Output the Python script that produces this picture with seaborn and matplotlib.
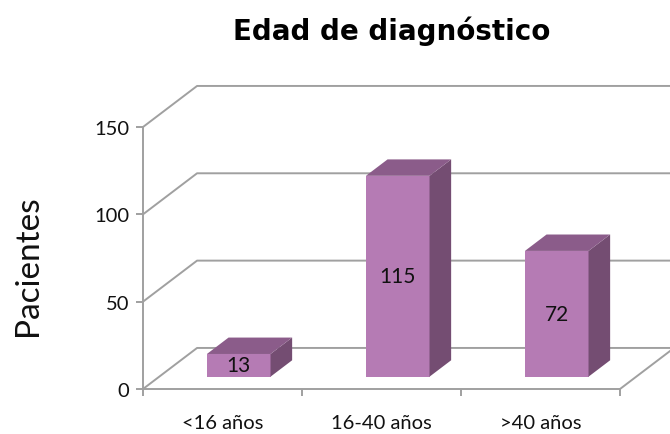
import matplotlib
matplotlib.use('Agg')
import matplotlib.pyplot as plt
from matplotlib.patches import Polygon
import seaborn as sns

# Data
categorias = ['<16 años', '16-40 años', '>40 años']
pacientes = [13, 115, 72]
y_ticks = [0, 50, 100, 150]

# Colors
front_color = '#b57bb4'
top_color = '#8b5c8a'
side_color = '#744d72'
grid_color = '#a0a0a0'
text_color = '#111111'

# Depth of the fake 3D box (data units) and where the bars sit inside it
DX, DY = 0.34, 23.5
F0, F1 = 0.3, 0.7

sns.set_style('white')
plt.rcParams['font.family'] = ['Lato', 'DejaVu Sans']

fig = plt.figure(figsize=(6.7, 4.35), dpi=100)
ax = fig.add_axes([143 / 670, 45 / 435, 477 / 670, 262 / 435])

sns.barplot(x=categorias, y=pacientes, color=front_color, saturation=1,
            width=0.40, ax=ax, zorder=3, linewidth=0)

ax.set_xlim(-0.5, 2.5)
ax.set_ylim(0, 150)

# Back wall gridlines: diagonal from the front axis then horizontal
for t in y_ticks:
    ax.plot([-0.5, -0.5 + DX, 3.0], [t, t + DY, t + DY], color=grid_color,
            lw=1.4, clip_on=False, zorder=1)

# Right edge of the floor
ax.plot([2.5, 2.5 + DX], [0, DY], color=grid_color, lw=1.4, clip_on=False, zorder=1)

# Turn the flat bars into boxes
d = F1 - F0
for p, v in zip(ax.patches, pacientes):
    p.set_x(p.get_x() + F0 * DX)
    p.set_y(p.get_y() + F0 * DY)
    p.set_clip_on(False)
    x0, y0 = p.get_x(), p.get_y()
    w, h = p.get_width(), p.get_height()
    x1, y1 = x0 + w, y0 + h
    side = Polygon([(x1, y0), (x1 + d * DX, y0 + d * DY), (x1 + d * DX, y1 + d * DY), (x1, y1)],
                   closed=True, facecolor=side_color, edgecolor='none', zorder=3, clip_on=False)
    top = Polygon([(x0, y1), (x1, y1), (x1 + d * DX, y1 + d * DY), (x0 + d * DX, y1 + d * DY)],
                  closed=True, facecolor=top_color, edgecolor='none', zorder=3, clip_on=False)
    ax.add_patch(side)
    ax.add_patch(top)
    ax.text(x0 + w / 2, y0 + h / 2, str(v), ha='center', va='center', fontsize=15,
            color=text_color, zorder=4)

# Front axes
for s in ['top', 'right']:
    ax.spines[s].set_visible(False)
for s in ['left', 'bottom']:
    ax.spines[s].set_color(grid_color)
    ax.spines[s].set_linewidth(1.4)

ax.set_yticks(y_ticks)
ax.tick_params(axis='y', left=True, length=5, width=1.4, color=grid_color,
               labelsize=14.5, pad=5, labelcolor=text_color)
ax.set_xticks([-0.5, 0.5, 1.5, 2.5], minor=True)
ax.tick_params(axis='x', which='minor', bottom=True, length=5, width=1.4, color=grid_color)
ax.tick_params(axis='x', which='major', bottom=False, length=0, labelsize=14.5,
               pad=18, labelcolor=text_color)
ax.set_xlabel('')
ax.set_ylabel('')

fig.text(28 / 670, 1 - 266 / 435, 'Pacientes', rotation=90, ha='center', va='center',
         fontsize=24, color=text_color)
fig.text(392 / 670, 1 - 31 / 435, 'Edad de diagnóstico', ha='center', va='center',
         fontsize=20, fontweight='bold', color='black', family=['DejaVu Sans'])

fig.savefig('out.png', dpi=100)
